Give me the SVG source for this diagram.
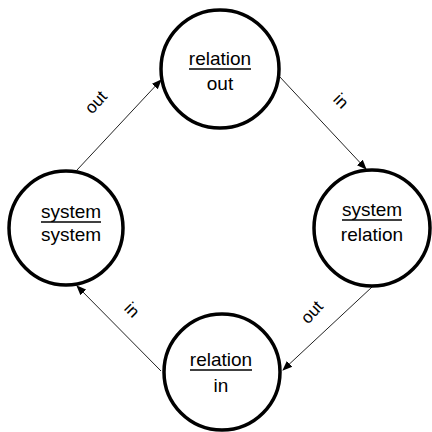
<svg xmlns="http://www.w3.org/2000/svg" width="432" height="432" viewBox="0 0 432 432">
  <style>
    .state { fill: #ffffff; stroke: #000000; stroke-width: 3.5; }
    .label { font-family: "Liberation Sans", Arial, sans-serif; font-size: 19px; fill: #000000; text-anchor: middle; }
    .edge { stroke: #222222; stroke-width: 1; fill: none; marker-end: url(#arrow); }
    .elabel { font-family: "Liberation Sans", Arial, sans-serif; font-size: 17px; fill: #000000; text-anchor: middle; }
    .under { stroke: #000000; stroke-width: 1.6; }
  </style>
  <defs>
    <marker id="arrow" viewBox="0 0 10 10" refX="9" refY="5" markerWidth="10" markerHeight="10" markerUnits="userSpaceOnUse" orient="auto">
      <path d="M0,1 L10,5 L0,9 z" fill="#000000"/>
    </marker>
  </defs>
  <rect width="432" height="432" fill="#ffffff"/>

  <!-- transitions between the four states -->
  <g id="connectors">
    <line class="edge" x1="77" y1="170" x2="161" y2="80"/>
    <line class="edge" x1="279" y1="76" x2="366" y2="169"/>
    <line class="edge" x1="372" y1="287" x2="283" y2="370"/>
    <line class="edge" x1="161" y1="371" x2="77" y2="286"/>
    <text class="elabel" transform="translate(100,106) rotate(-47)">out</text>
    <text class="elabel" transform="translate(337,105) rotate(45)">in</text>
    <text class="elabel" transform="translate(316,316) rotate(-47)">out</text>
    <text class="elabel" transform="translate(128,314) rotate(45)">in</text>
  </g>

  <g id="relation-out">
    <circle class="state" cx="220" cy="69" r="59"/>
    <text class="label" x="220" y="65">relation</text>
    <line class="under" x1="189" y1="69" x2="251" y2="69"/>
    <text class="label" x="220" y="90">out</text>
  </g>

  <g id="system-system">
    <circle class="state" cx="66" cy="228" r="57"/>
    <text class="label" x="71" y="218">system</text>
    <line class="under" x1="41" y1="222" x2="101" y2="222"/>
    <text class="label" x="71" y="241">system</text>
  </g>

  <g id="system-relation">
    <circle class="state" cx="372" cy="228" r="58"/>
    <text class="label" x="372" y="216">system</text>
    <line class="under" x1="342" y1="220" x2="402" y2="220"/>
    <text class="label" x="372" y="241">relation</text>
  </g>

  <g id="relation-in">
    <circle class="state" cx="222" cy="372" r="58"/>
    <text class="label" x="221" y="366">relation</text>
    <line class="under" x1="190" y1="370" x2="252" y2="370"/>
    <text class="label" x="221" y="392">in</text>
  </g>
</svg>
